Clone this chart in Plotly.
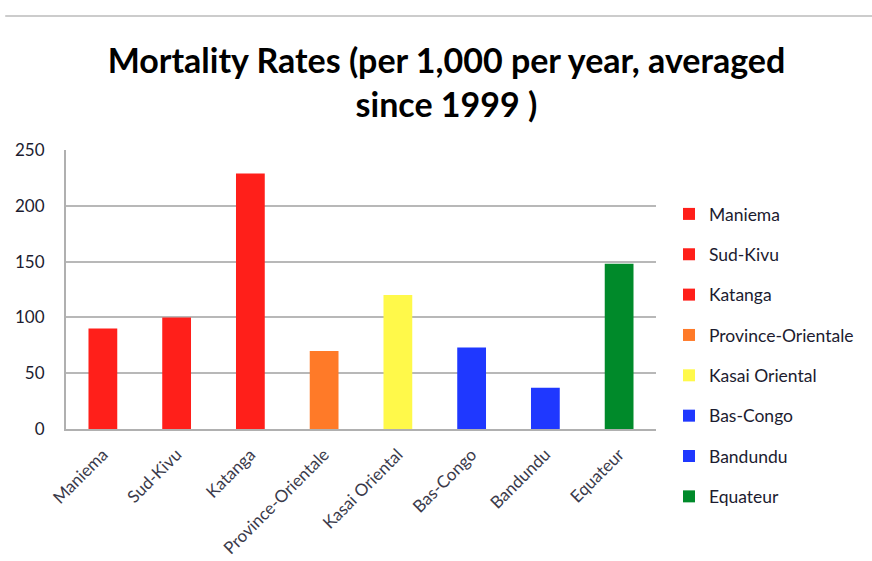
import plotly.graph_objects as go

# Provinces, averaged mortality rates and bar colours
provinces = ["Maniema", "Sud-Kivu", "Katanga", "Province-Orientale",
             "Kasai Oriental", "Bas-Congo", "Bandundu", "Equateur"]
rates = [90, 100, 229, 70, 120, 73, 37, 148]
colors = ["#FF1F1A", "#FF1F1A", "#FF1F1A", "#FF7A28",
          "#FFF94A", "#1F38FF", "#1F38FF", "#008A2A"]
y_ticks = [0, 50, 100, 150, 200, 250]

FONT = "Lato"
TEXT = "#1c1c30"

fig = go.Figure()
for name, val, col in zip(provinces, rates, colors):
    fig.add_trace(go.Bar(
        x=[name], y=[val], name=name, legendgroup=name,
        marker=dict(color=col, line=dict(width=0)),
        width=0.39,
    ))

fig.update_layout(
    width=872, height=561,
    margin=dict(l=66, r=216, t=150, b=132),
    paper_bgcolor="white", plot_bgcolor="white",
    barmode="overlay",
    title=dict(
        text="<b>Mortality Rates (per 1,000 per year, averaged<br>since 1999 )</b>",
        x=0.512, xanchor="center", xref="container",
        y=1 - 73 / 561, yanchor="middle", yref="container",
        font=dict(family=FONT, size=34, color="#000000"),
    ),
    xaxis=dict(
        categoryorder="array", categoryarray=provinces,
        tickangle=-45, tickfont=dict(family=FONT, size=17, color="#3a3a4a"),
        showline=True, linecolor="#B0B0B0", linewidth=2,
        showgrid=False, ticks="", ticklabelstandoff=7,
        automargin=False,
    ),
    yaxis=dict(
        range=[0, 250], tickvals=y_ticks,
        tickfont=dict(family=FONT, size=17, color=TEXT),
        showgrid=True, gridcolor="#B8B8B8", gridwidth=2,
        showline=True, linecolor="#B0B0B0", linewidth=2,
        zeroline=False, ticks="", ticklabelstandoff=16,
        automargin=False,
    ),
    legend=dict(
        x=1.022, xanchor="left", y=0.835, yanchor="top",
        font=dict(family=FONT, size=17.5, color=TEXT),
        tracegroupgap=14.6, bgcolor="rgba(0,0,0,0)",
        maxheight=380,
    ),
    showlegend=True,
)

# Thin rule across the top of the page
fig.add_shape(type="line", xref="paper", yref="paper",
              x0=-0.103, x1=1.37, y0=1.48, y1=1.48,
              line=dict(color="#CCCCCC", width=2))

fig.write_html("out.html")
